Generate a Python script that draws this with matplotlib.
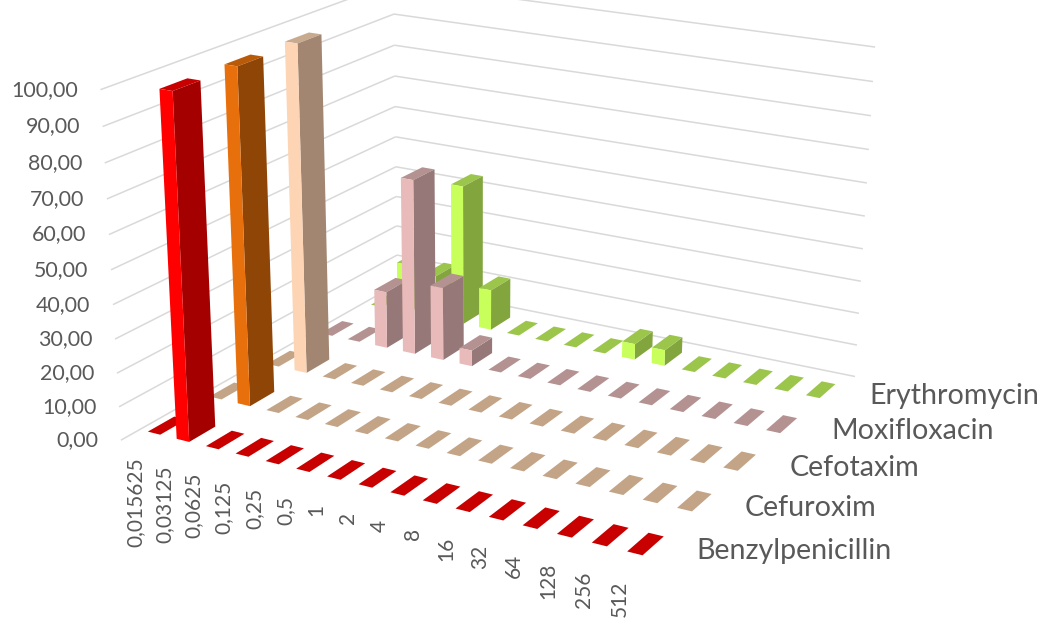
import numpy as np
import matplotlib
matplotlib.use("Agg")
import matplotlib.pyplot as plt
from mpl_toolkits.mplot3d.art3d import Line3DCollection

categories = ["0,015625","0,03125","0,0625","0,125","0,25","0,5","1","2","4","8","16","32","64","128","256","512"]
series_names = ["Benzylpenicillin","Cefuroxim","Cefotaxim","Moxifloxacin","Erythromycin"]
benzylpenicillin = [0,100,0,0,0,0,0,0,0,0,0,0,0,0,0,0]
cefuroxim        = [0,100,0,0,0,0,0,0,0,0,0,0,0,0,0,0]
cefotaxim        = [0,100,0,0,0,0,0,0,0,0,0,0,0,0,0,0]
moxifloxacin     = [0,0,18,55,23,5,0,0,0,0,0,0,0,0,0,0]
erythromycin     = [0,16,14,45,13,0,0,0,0,5,5,0,0,0,0,0]
values = [benzylpenicillin,cefuroxim,cefotaxim,moxifloxacin,erythromycin]
z_ticks = list(range(0,101,10))
z_labels = ["0,00","10,00","20,00","30,00","40,00","50,00","60,00","70,00","80,00","90,00","100,00"]

# face colours: front, side, top
flat_top = ["#C80000","#C3A486","#C3A486","#B59292","#9BC64B"]
tall = [("#FF0000","#A50000","#C80000"),("#E8700C","#8F4506","#B95A08"),
        ("#FDD4B4","#A38671","#C8AA8F"),("#E8BABA","#967878","#B59292"),
        ("#C8FF5A","#82A53E","#9BC64B")]

W, H = 1043, 618
fig = plt.figure(figsize=(W/100, H/100), dpi=100)
ax = fig.add_axes([0, -(W-H)/2/H, 1, W/H], projection="3d")
ax.set_axis_off()
ax.patch.set_visible(False)
ax.computed_zorder = False

bw, bd = 0.43, 0.42
hw, hd = bw/2, bd/2
# camera calibration: world (category, row, value) -> picture pixel
calib = [((0,0,0),(120,440)),((0,0,100),(99,90)),((0,5,0),(396,284)),((0,5,100),(393,-17)),
         ((16,5,0),(855,377)),((16,5,100),(875,46)),
         ((15.5-hw,0.5-hd,0),(628,551)),((15.5+hw,0.5+hd,0),(662,537)),
         ((15.5-hw,4.5-hd,0),(807,395)),((15.5+hw,4.5+hd,0),(834,385)),
         ((1.5-hw,0.5-hd,0),(177,439)),((1.5-hw,0.5-hd,100),(160,89)),
         ((1.5-hw,1.5-hd,0),(238,403)),((1.5-hw,1.5-hd,100),(225,64)),
         ((1.5-hw,2.5-hd,0),(295,370)),((1.5-hw,2.5-hd,100),(286,42)),
         ((2.5-hw,3.5-hd,0),(376,345)),((5.5-hw,3.5-hd,0),(460,363)),
         ((4.5-hw,4.5-hd,0),(479,327)),((9.5-hw,4.5-hd,0),(623,357)),((10.5-hw,4.5-hd,0),(652,363))]
A, b = [], []
for (x,y,z),(u,v) in calib:
    v = H - v
    A.append([x,y,z,1,0,0,0,0,-u*x,-u*y,-u*z]); b.append(u)
    A.append([0,0,0,0,x,y,z,1,-v*x,-v*y,-v*z]); b.append(v)
p = np.linalg.lstsq(np.array(A,float), np.array(b,float), rcond=None)[0]
P = np.append(p,1.0).reshape(3,4)

def get_proj():
    T = ax.transData.get_affine().get_matrix()
    V = np.linalg.inv(T) @ P
    return np.array([V[0],V[1],[0,1,0,0],V[2]])
ax.get_proj = get_proj

def to_fig(x,y,z,dx=0,dy=0):
    q = P @ np.array([x,y,z,1.0])
    return (q[0]/q[2]+dx)/W, (q[1]/q[2]-dy)/H

grid = "#D9D9D9"
segs = []
for z in z_ticks:
    segs.append([(0,0,z),(0,5,z)])
    segs.append([(0,5,z),(16,5,z)])
ax.add_collection3d(Line3DCollection(segs,colors=grid,linewidths=1.1,zorder=1))

none = (0,0,0,0)
zo = 10
for j in range(4,-1,-1):
    for i in range(16):
        h = values[j][i]
        if h > 0:
            front, side, top = tall[j]
        else:
            front, side, top = flat_top[j], flat_top[j], flat_top[j]
        # order: bottom, top, front(-y), back(+y), left(-x), right(+x)
        ax.bar3d(i+0.5-hw, j+0.5-hd, 0, bw, bd, h, shade=False,
                 color=[none, top, front, none, none, side], linewidth=0, zorder=zo)
        zo += 1

font = dict(family="Lato", color="#595959")
for z,l in zip(z_ticks,z_labels):
    fx,fy = to_fig(0,0,z,dx=-22.5)
    fig.text(fx,fy,l,ha="right",va="center",fontsize=15.4,**font)
for i,l in enumerate(categories):
    fx,fy = to_fig(i+0.5,0,0,dx=0,dy=14)
    fig.text(fx,fy,l,rotation=90,ha="center",va="top",fontsize=15,**font)
for j,l in enumerate(series_names):
    fx,fy = to_fig(16,j+0.5,0,dx=33,dy=3)
    fig.text(fx,fy,l,ha="left",va="center",fontsize=20.6,**font)

fig.savefig("out.png",dpi=100)
